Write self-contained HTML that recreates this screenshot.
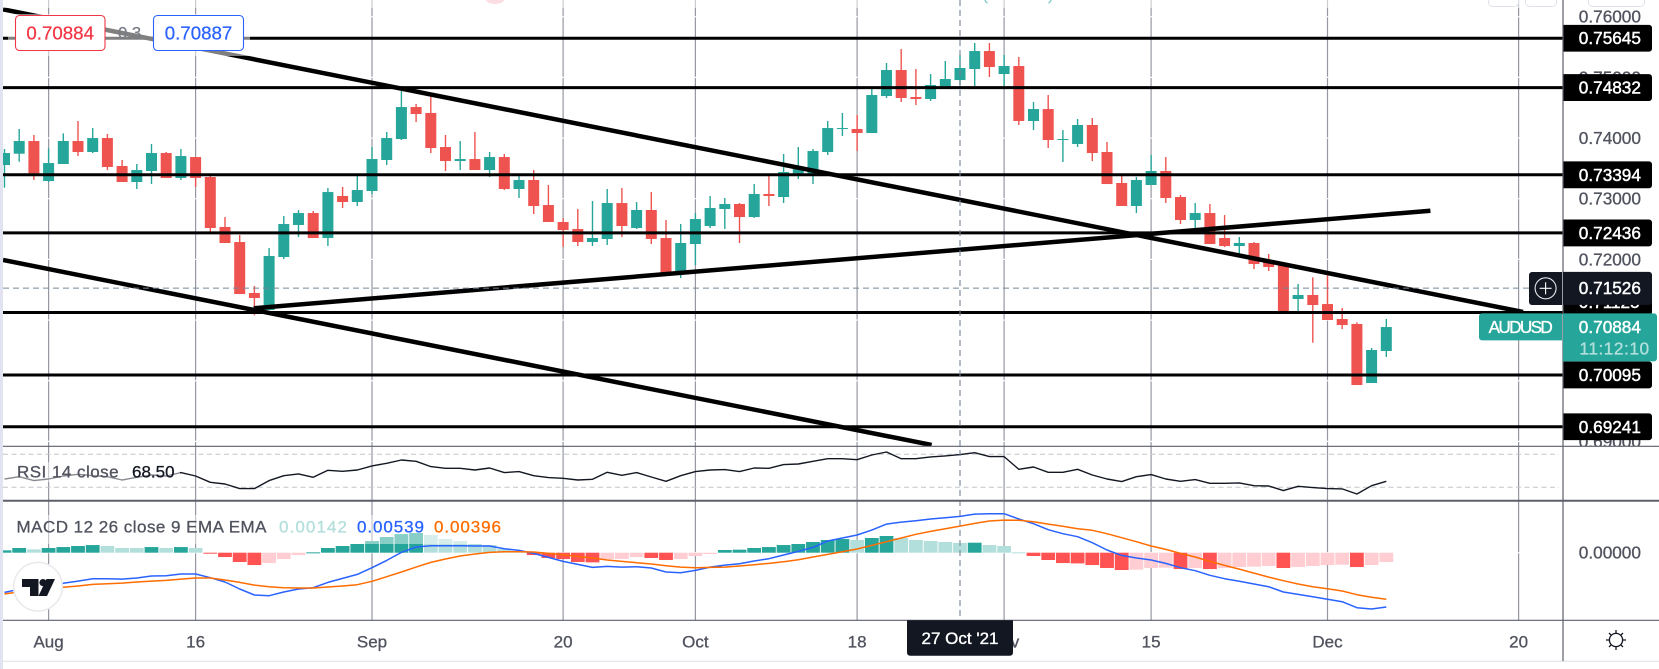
<!DOCTYPE html>
<html lang="en">
<head>
<meta charset="utf-8">
<title>AUDUSD Daily Chart</title>
<style>
html,body{margin:0;padding:0;background:#fff;width:1659px;height:669px;overflow:hidden}
svg{display:block}
text{font-family:"Liberation Sans",sans-serif}
</style>
</head>
<body>
<svg id="chart" xmlns="http://www.w3.org/2000/svg" width="1659" height="669" viewBox="0 0 1659 669">
  <defs>
    <clipPath id="price-pane-clip"><rect x="3" y="0" width="1560" height="446"></rect></clipPath>
    <clipPath id="axis-clip"><rect x="1564" y="0" width="95" height="446"></rect></clipPath>
    <clipPath id="hist-clip"><rect x="3" y="501" width="1560" height="119"></rect></clipPath>
  </defs>
  <rect x="0" y="0" width="1659" height="669" fill="#ffffff"></rect>
  <g id="grid-layer"></g>
  <g id="rsi-guides"></g>
  <g id="candle-layer" clip-path="url(#price-pane-clip)"></g>
  <g id="level-layer" clip-path="url(#price-pane-clip)"></g>
  <g id="trend-layer" clip-path="url(#price-pane-clip)"></g>
  <g id="hist-layer" clip-path="url(#hist-clip)"></g>
  <g id="indicator-layer"></g>
  <rect x="8" y="14" width="242" height="42" fill="#ffffff" opacity="0.5"></rect>
  <rect x="3" y="462" width="177" height="20" fill="#ffffff" opacity="0.5"></rect>
  <rect x="3" y="515" width="500" height="29" fill="#ffffff" opacity="0.45"></rect>
  <rect x="3" y="0" width="1560" height="8" fill="#ffffff" opacity="0.5"></rect>
  <g id="crosshair-layer"></g>

  <!-- frame -->
  <rect x="0" y="0" width="3" height="669" fill="#e1e4f0"></rect>
  <line x1="3" x2="1563" y1="446.3" y2="446.3" stroke="#5d606b" stroke-width="1.2"></line>
  <line x1="3" x2="1659" y1="500.7" y2="500.7" stroke="#5d606b" stroke-width="2"></line>
  <line x1="3" x2="1659" y1="620.3" y2="620.3" stroke="#5d606b" stroke-width="1.2"></line>
  <line x1="3" x2="1659" y1="661.3" y2="661.3" stroke="#e0e3eb" stroke-width="1.2"></line>
  <line x1="1563" x2="1659" y1="446.3" y2="446.3" stroke="#5d606b" stroke-width="1.2"></line>

  <!-- axes -->
  <g id="price-ticks" clip-path="url(#axis-clip)"></g>
  <g id="level-labels"></g>
  <g id="time-ticks"></g>
  <line x1="1563" x2="1563" y1="0" y2="661" stroke="#5d606b" stroke-width="1.2"></line>

  <!-- crosshair labels -->
  <g>
    <path d="M907 620.3H1013V652.7a3 3 0 0 1-3 3H910a3 3 0 0 1-3-3Z" fill="#131722"></path>
    <text x="960" y="644" font-size="17" fill="#ffffff" stroke="#ffffff" stroke-width="0.35" text-anchor="middle">27 Oct '21</text>
  </g>
  <g id="crosshair-price"></g>
  <g>
    <path d="M1532 272H1562V305H1532a3 3 0 0 1-3-3V275a3 3 0 0 1 3-3Z" fill="#131722"></path>
    <circle cx="1545.6" cy="288.3" r="10.5" fill="none" stroke="#e6e8ee" stroke-width="1.1"></circle>
    <line x1="1539.6" x2="1551.6" y1="288.3" y2="288.3" stroke="#ffffff" stroke-width="1.1"></line>
    <line x1="1545.6" x2="1545.6" y1="282.3" y2="294.3" stroke="#ffffff" stroke-width="1.1"></line>
  </g>
  <g id="last-price"></g>

  <!-- legend -->
  <g>
    <rect x="15.5" y="15.5" width="89.5" height="35" rx="4" fill="#ffffff" stroke="#f23645" stroke-width="1.1"></rect>
    <text x="60.2" y="39.5" font-size="18.7" fill="#f23645" stroke="#f23645" stroke-width="0.25" text-anchor="middle">0.70884</text>
  </g>
  <text x="118" y="38.5" font-size="16.7" fill="#787b86" stroke="#787b86" stroke-width="0.25">0.3</text>
  <g>
    <rect x="153.5" y="15.5" width="90" height="35" rx="4" fill="#ffffff" stroke="#2962ff" stroke-width="1.1"></rect>
    <text x="198.5" y="39.5" font-size="18.7" fill="#2962ff" stroke="#2962ff" stroke-width="0.25" text-anchor="middle">0.70887</text>
  </g>
  <text x="17" y="477.7" font-size="17" fill="#50535e" stroke="#50535e" stroke-width="0.3" textLength="101.6" lengthAdjust="spacing">RSI 14 close</text>
  <text x="132" y="477.7" font-size="17" fill="#131722" stroke="#131722" stroke-width="0.3">68.50</text>
  <text x="16.5" y="532.7" font-size="17" fill="#50535e" stroke="#50535e" stroke-width="0.3" textLength="250" lengthAdjust="spacing">MACD 12 26 close 9 EMA EMA</text>
  <text x="279" y="532.7" font-size="17" fill="#b2dfdb" stroke="#b2dfdb" stroke-width="0.3" textLength="68">0.00142</text>
  <text x="357" y="532.7" font-size="17" fill="#2962ff" stroke="#2962ff" stroke-width="0.3" textLength="67">0.00539</text>
  <text x="434" y="532.7" font-size="17" fill="#ff6d00" stroke="#ff6d00" stroke-width="0.3" textLength="67">0.00396</text>

  <!-- logo -->
  <g>
    <circle cx="38" cy="586.7" r="24.3" fill="#ffffff" stroke="#e9e9ec" stroke-width="1.5"></circle>
    <path d="M22 579H38.5V596H30V587H22Z" fill="#131722"></path>
    <circle cx="43" cy="582.6" r="3.6" fill="#131722"></circle>
    <path d="M46.5 579H55L47 596H38.5Z" fill="#131722"></path>
  </g>

  <!-- settings icon -->
  <g fill="none" stroke="#131722" stroke-width="1.3">
    <circle cx="1616" cy="640" r="6.6"></circle>
    <path d="M1616 630v3.2M1616 646.8v3.2M1606 640h3.2M1622.8 640h3.2M1609 633l2.2 2.2M1620.8 644.8l2.2 2.2M1609 647l2.2-2.2M1620.8 635.2l2.2-2.2"></path>
  </g>

  <!-- cropped toolbar remnants -->
  <rect x="1488.5" y="-10" width="30" height="16.5" rx="4" fill="#ffffff" stroke="#e0e3eb"></rect>
  <rect x="1525.5" y="-10" width="31" height="16.5" rx="4" fill="#ffffff" stroke="#e0e3eb"></rect>
  <rect x="1588.5" y="-10" width="56" height="16.5" rx="4" fill="#ffffff" stroke="#e0e3eb"></rect>
  <ellipse cx="495" cy="-2" rx="10" ry="6" fill="#fbdde3"></ellipse>
  <path d="M985 0q0.5 2.2 2.6 3" fill="none" stroke="#7fcac3" stroke-width="1.3"></path>
  <path d="M1051 0q-0.5 2.2 -2.6 3" fill="none" stroke="#7fcac3" stroke-width="1.3"></path>
</svg>

<script>
// ---------- Data ----------
const opens = [0.73555,0.73742,0.73951,0.73292,0.73572,0.73951,0.73770,0.74000,0.73539,0.73275,0.73457,0.73753,0.73341,0.73687,0.73358,0.72534,0.72286,0.71446,0.71166,0.72039,0.72567,0.72764,0.72352,0.73045,0.72946,0.73127,0.73638,0.73984,0.74511,0.74413,0.73852,0.73621,0.73654,0.73473,0.73687,0.73160,0.73308,0.72896,0.72616,0.72501,0.72286,0.72336,0.72929,0.72517,0.72814,0.72352,0.71792,0.72253,0.72550,0.72830,0.72913,0.72698,0.73078,0.73028,0.73418,0.73407,0.73770,0.74149,0.74149,0.74083,0.74693,0.75121,0.74676,0.74643,0.74852,0.74956,0.75138,0.75434,0.75055,0.75187,0.74281,0.74478,0.73968,0.73902,0.74215,0.73770,0.73259,0.72880,0.73226,0.73457,0.73028,0.72649,0.72764,0.72352,0.72220,0.72270,0.71973,0.71907,0.71347,0.71413,0.71264,0.71017,0.70935,0.69962,0.70490];
const closes = [0.73753,0.73951,0.73418,0.73588,0.73951,0.73770,0.74000,0.73523,0.73275,0.73473,0.73753,0.73341,0.73704,0.73341,0.72517,0.72270,0.71429,0.71363,0.72056,0.72583,0.72764,0.72352,0.73110,0.72946,0.73143,0.73654,0.74000,0.74511,0.74396,0.73836,0.73621,0.73654,0.73473,0.73687,0.73160,0.73308,0.72880,0.72616,0.72484,0.72286,0.72352,0.72929,0.72550,0.72814,0.72336,0.71770,0.72270,0.72665,0.72847,0.72913,0.72698,0.73078,0.73045,0.73440,0.73490,0.73786,0.74165,0.74165,0.74083,0.74709,0.75121,0.74660,0.74643,0.74874,0.74973,0.75154,0.75434,0.75171,0.75187,0.74281,0.74478,0.73968,0.73984,0.74215,0.73753,0.73242,0.72880,0.73308,0.73457,0.73012,0.72649,0.72764,0.72253,0.72220,0.72270,0.71924,0.71874,0.71149,0.71413,0.71248,0.71001,0.70918,0.69929,0.70506,0.70885];
const highs = [0.73819,0.74149,0.74050,0.73830,0.74077,0.74281,0.74165,0.74066,0.73638,0.73572,0.73902,0.73770,0.73819,0.73687,0.73374,0.72698,0.72402,0.71561,0.72187,0.72715,0.72814,0.72797,0.73176,0.73193,0.73374,0.73852,0.74099,0.74775,0.74561,0.74682,0.74050,0.73951,0.74099,0.73770,0.73737,0.73374,0.73473,0.73226,0.72676,0.72830,0.72962,0.73160,0.73176,0.72946,0.73110,0.72649,0.72583,0.72764,0.73045,0.73012,0.72929,0.73242,0.73374,0.73737,0.73852,0.73819,0.74281,0.74413,0.74380,0.74819,0.75237,0.75467,0.75138,0.75055,0.75270,0.75368,0.75566,0.75566,0.75368,0.75336,0.74594,0.74709,0.74132,0.74314,0.74330,0.73935,0.73374,0.73358,0.73720,0.73687,0.73061,0.72929,0.72913,0.72731,0.72369,0.72286,0.72089,0.71935,0.71594,0.71704,0.71737,0.71199,0.70962,0.70539,0.71017];
const lows = [0.73182,0.73610,0.73308,0.73275,0.73572,0.73704,0.73753,0.73473,0.73275,0.73160,0.73242,0.73341,0.73308,0.73193,0.72451,0.72270,0.71429,0.71078,0.71166,0.72006,0.72369,0.72352,0.72220,0.72847,0.72880,0.73078,0.73555,0.73968,0.74264,0.73753,0.73457,0.73473,0.73473,0.73358,0.73143,0.73012,0.72748,0.72616,0.72209,0.72220,0.72220,0.72237,0.72369,0.72501,0.72253,0.71742,0.71693,0.71907,0.72517,0.72501,0.72270,0.72682,0.72880,0.72929,0.73325,0.73242,0.73720,0.74033,0.73786,0.74083,0.74660,0.74594,0.74544,0.74610,0.74852,0.74874,0.74858,0.75006,0.74858,0.74215,0.74132,0.73836,0.73605,0.73852,0.73621,0.73242,0.72880,0.72764,0.73226,0.72929,0.72583,0.72517,0.72253,0.72204,0.72072,0.71841,0.71808,0.71149,0.71149,0.70627,0.71001,0.70852,0.69929,0.69962,0.70391];

const rsiValues = [40.1,42.9,38.1,40.1,43.7,45.8,44.1,42.9,38.9,42.1,44.9,43.7,47.8,43.7,36.1,34.0,28.4,28.4,38.1,44.1,46.2,42.1,50.6,49.4,51.0,55.9,59.1,63.1,61.5,55.1,53.0,53.0,51.0,53.4,47.8,49.0,44.1,41.7,40.9,38.9,39.7,48.2,44.5,47.8,42.5,37.3,44.1,49.0,51.0,51.4,49.0,53.4,53.0,57.5,58.3,61.5,64.7,64.7,63.5,69.2,72.8,64.7,64.7,66.8,68.0,69.6,72.0,67.2,67.2,51.8,54.6,48.2,48.2,51.8,44.9,40.1,36.9,42.9,45.4,40.1,37.3,39.3,34.8,34.8,35.3,32.0,31.6,26.0,31.2,29.6,28.4,28.0,21.9,32.0,37.3];

// MACD series in units of 0.00001
const macdValues = [-575,-531,-493,-469,-444,-411,-377,-377,-382,-367,-338,-333,-309,-309,-362,-425,-526,-613,-623,-570,-526,-507,-430,-372,-314,-217,-111,5,82,101,101,101,97,97,58,34,-10,-68,-126,-169,-213,-198,-208,-203,-222,-280,-290,-256,-208,-179,-159,-121,-87,-34,19,77,169,213,256,328,415,444,464,488,507,526,560,565,565,488,420,333,275,232,145,39,-39,-77,-106,-155,-217,-261,-328,-377,-415,-454,-493,-570,-604,-638,-676,-710,-797,-816,-787];
const signalValues = [-599,-565,-541,-522,-502,-483,-459,-449,-440,-425,-411,-401,-382,-367,-367,-396,-430,-469,-493,-507,-512,-512,-497,-483,-464,-415,-348,-280,-208,-140,-92,-48,-19,5,14,14,10,-10,-29,-53,-77,-106,-126,-145,-164,-188,-208,-217,-213,-208,-193,-174,-155,-130,-101,-63,-24,14,53,106,159,213,266,309,348,386,425,459,473,469,449,415,382,348,324,275,217,159,97,48,-10,-63,-126,-184,-237,-295,-353,-406,-454,-493,-522,-555,-609,-647,-676];
const histValues = [34,68,48,68,82,97,111,97,68,68,82,68,82,68,-5,-63,-135,-179,-150,-92,-34,5,68,97,126,169,227,270,285,256,198,169,126,111,53,24,-34,-77,-92,-135,-140,-92,-90,-63,-77,-106,-92,-48,-19,39,44,68,82,111,126,155,184,198,184,213,242,213,184,169,155,142,145,111,97,5,-48,-106,-150,-155,-179,-222,-251,-246,-222,-217,-237,-222,-237,-222,-208,-203,-193,-222,-208,-193,-179,-174,-208,-179,-135];

const priceTicks = [0.76,0.75,0.74,0.73,0.72,0.71,0.70,0.69];
const levelPrices = [0.75645,0.74832,0.73394,0.72436,0.71125,0.70095,0.69241];
const timeTickBars = [3,13,25,38,47,58,68,78,90,103];
const timeTickLabels = ["Aug","16","Sep","20","Oct","18","Nov","15","Dec","20"];
const trendStartBars = [-0.1,-0.1,16.95];
const trendStartPrices = [0.76122,0.71990,0.71194];
const trendEndBars = [103.3,63.07,97];
const trendEndPrices = [0.71133,0.68941,0.72802];
const crosshairBar = 65;
const crosshairPrice = 0.71526;
const lastPrice = 0.70884;
const countdownText = "11:12:10";
const symbolText = "AUDUSD";

// ---------- Axis functions ----------
function xBar(i){ return 4.5 + 14.7 * i; }
function yPrice(p){ return 16.7 + (0.76 - p) * 6067; }
function yRsi(v){ return 454.3 + (70 - v) * 0.825; }
function yMacd(v){ return 552.7 - v * 0.069; }

const NS = "http://www.w3.org/2000/svg";
function mk(tag, attrs, parent, txt){
  const n = document.createElementNS(NS, tag);
  for (const k in attrs) n.setAttribute(k, attrs[k]);
  if (txt !== undefined) n.textContent = txt;
  parent.appendChild(n);
  return n;
}
const $ = id => document.getElementById(id);
let el;

// ---------- Grid ----------
timeTickBars.forEach(function(b){
  el = mk('line',{x1:xBar(b),x2:xBar(b),y1:0,y2:620,stroke:'#9598a1','stroke-width':1.2},$('grid-layer'));
  
  
});
priceTicks.forEach(function(p){
  el = mk('line',{x1:3,x2:1563,y1:yPrice(p),y2:yPrice(p),stroke:'#ffffff','stroke-width':1.2},$('grid-layer'));
  
  
});
el = mk('line',{x1:3,x2:1563,y1:yMacd(0),y2:yMacd(0),stroke:'#ffffff','stroke-width':1.2},$('grid-layer'));



// ---------- RSI guides ----------
[70,30].forEach(function(v){
  el = mk('line',{x1:3,x2:1559,y1:yRsi(v),y2:yRsi(v),stroke:'#c3c5cb','stroke-width':1,'stroke-dasharray':'5 3.5'},$('rsi-guides'));
  
  
});

// ---------- Candles ----------
opens.forEach(function(o,i){
  const c = closes[i], up = c >= o, col = up ? '#26a69a' : '#ef5350', x = xBar(i);
  el = mk('line',{x1:x,x2:x,y1:yPrice(highs[i]),y2:yPrice(lows[i]),stroke:col,'stroke-width':1.4},$('candle-layer'));
  
  
  const top = yPrice(Math.max(o,c)), bot = yPrice(Math.min(o,c));
  el = mk('rect',{x:x-5.5,y:top,width:11,height:Math.max(bot-top,1),fill:col},$('candle-layer'));
  
  
});

// ---------- Levels ----------
levelPrices.forEach(function(p){
  el = mk('line',{x1:3,x2:1563,y1:yPrice(p),y2:yPrice(p),stroke:'#000000','stroke-width':3},$('level-layer'));
  
  
});

// ---------- Trend lines ----------
trendStartBars.forEach(function(b,i){
  el = mk('line',{x1:xBar(b),y1:yPrice(trendStartPrices[i]),x2:xBar(trendEndBars[i]),y2:yPrice(trendEndPrices[i]),stroke:'#000000','stroke-width':4.5},$('trend-layer'));
  
  
});

// ---------- Histogram ----------
histValues.forEach(function(h,i){
  const prev = i ? histValues[i-1] : 0;
  let col;
  if (h >= 0) col = h > prev ? '#26a69a' : '#b2dfdb';
  else col = h < prev ? '#ff5252' : '#ffcdd2';
  const y0 = yMacd(0), y1 = yMacd(h);
  el = mk('rect',{x:xBar(i)-6.9,y:Math.min(y0,y1),width:13.8,height:Math.max(Math.abs(y1-y0),1),fill:col},$('hist-layer'));
  
  
});

// ---------- Indicator lines ----------
function pts(values, fy){
  return values.map(function(v,i){ return xBar(i).toFixed(1)+','+fy(v).toFixed(1); }).join(' ');
}
el = mk('polyline',{points:pts(rsiValues,yRsi),fill:'none',stroke:'#131722','stroke-width':1.4,'stroke-linejoin':'round'},$('indicator-layer'));


el = mk('polyline',{points:pts(macdValues,yMacd),fill:'none',stroke:'#2962ff','stroke-width':1.5,'stroke-linejoin':'round'},$('indicator-layer'));


el = mk('polyline',{points:pts(signalValues,yMacd),fill:'none',stroke:'#ff6d00','stroke-width':1.5,'stroke-linejoin':'round'},$('indicator-layer'));



// ---------- Crosshair ----------
el = mk('line',{x1:3,x2:1529,y1:yPrice(crosshairPrice),y2:yPrice(crosshairPrice),stroke:'#758696','stroke-width':1,'stroke-dasharray':'6 4'},$('crosshair-layer'));


el = mk('line',{x1:xBar(crosshairBar),x2:xBar(crosshairBar),y1:0,y2:620,stroke:'#758696','stroke-width':1.1,'stroke-dasharray':'6 4'},$('crosshair-layer'));



// ---------- Price ticks ----------
priceTicks.forEach(function(p){
  el = mk('text',{x:1578.8,y:yPrice(p)+6,'font-size':17.2,fill:'#50535e',stroke:'#50535e','stroke-width':0.3},$('price-ticks'),p.toFixed(5));
  
  
});
el = mk('text',{x:1578.8,y:yMacd(0)+6,'font-size':17.2,fill:'#50535e',stroke:'#50535e','stroke-width':0.3},$('time-ticks'),(0).toFixed(5));



// ---------- Level labels ----------
levelPrices.forEach(function(p){
  let y = yPrice(p);
  // A label that would collide with the last-price tag is pushed upward.
  const lastTop = yPrice(lastPrice) - 13.7;
  if (y < lastTop + 13.4 && y > lastTop - 11.5) y = lastTop - 11.5;
  el = mk('path',{d:'M1563 '+(y-13.4)+'H1649a3 3 0 0 1 3 3V'+(y+10.4)+'a3 3 0 0 1-3 3H1563Z',fill:'#000000'},$('level-labels'));
  
  
  el = mk('text',{x:1578.8,y:y+6,'font-size':17.2,fill:'#ffffff',stroke:'#ffffff','stroke-width':0.45},$('level-labels'),p.toFixed(5));
  
  
});

// ---------- Time ticks ----------
timeTickBars.forEach(function(b,i){
  el = mk('text',{x:xBar(b),y:647.7,'font-size':17,fill:'#50535e',stroke:'#50535e','stroke-width':0.3,'text-anchor':'middle'},$('time-ticks'),timeTickLabels[i]);
  
  
});

// ---------- Crosshair price label ----------
(function(){
  const y = yPrice(crosshairPrice);
  el = mk('path',{d:'M1563 '+(y-16.3)+'H1649a3 3 0 0 1 3 3V'+(y+13.7)+'a3 3 0 0 1-3 3H1563Z',fill:'#131722'},$('crosshair-price'));
  
  
  el = mk('text',{x:1578.8,y:y+6,'font-size':17.2,fill:'#ffffff',stroke:'#ffffff','stroke-width':0.45},$('crosshair-price'),crosshairPrice.toFixed(5));
  
  
})();

// ---------- Last price label ----------
(function(){
  const y = yPrice(lastPrice);
  const top = y - 13.7;
  el = mk('path',{d:'M1482 '+top+'H1562V'+(top+27)+'H1482a3 3 0 0 1-3-3V'+(top+3)+'a3 3 0 0 1 3-3Z',fill:'#26a69a'},$('last-price'));
  
  
  el = mk('text',{x:1488.6,y:y+6,'font-size':17.2,fill:'#ffffff',textLength:64.2,stroke:'#ffffff','stroke-width':0.35},$('last-price'),symbolText);
  
  
  el = mk('path',{d:'M1563 '+top+'H1654a3 3 0 0 1 3 3V'+(top+45)+'a3 3 0 0 1-3 3H1563Z',fill:'#26a69a'},$('last-price'));
  
  
  el = mk('text',{x:1578.8,y:y+6,'font-size':17.2,fill:'#ffffff',stroke:'#ffffff','stroke-width':0.45},$('last-price'),lastPrice.toFixed(5));
  
  
  el = mk('text',{x:1579.5,y:y+27.2,'font-size':17.2,fill:'#b2dfdb',textLength:69.5,stroke:'#b2dfdb','stroke-width':0.35},$('last-price'),countdownText);
  
  
})();
</script>
</body>
</html>
